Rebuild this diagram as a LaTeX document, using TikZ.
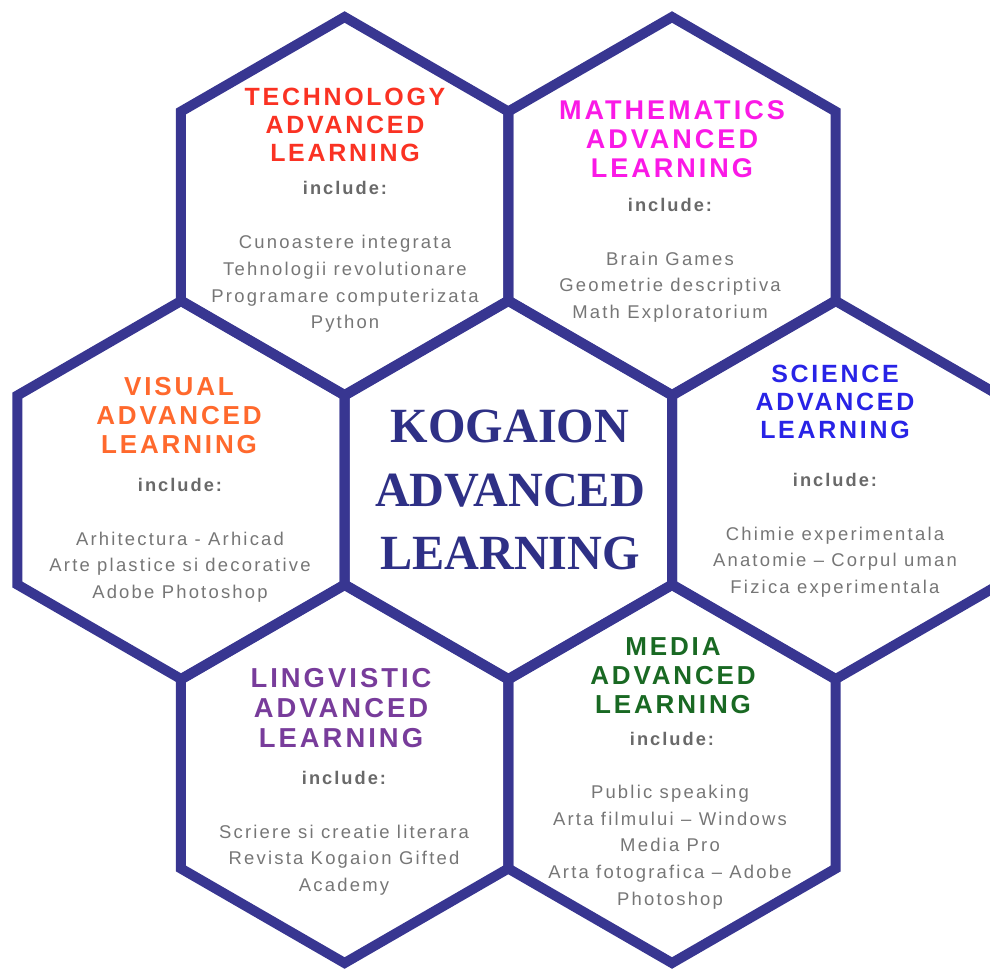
\documentclass[tikz,border=0pt]{standalone}
\usepackage{fontspec}
\setsansfont{Liberation Sans}
\newfontfamily\hexfont[LetterSpace=11]{Liberation Sans}
\newfontfamily\bodyfont[LetterSpace=12]{Liberation Sans}
\newfontfamily\kogfont[FakeStretch=0.98]{Liberation Serif}

\definecolor{hexblue}{RGB}{56,54,145}
\definecolor{kogblue}{RGB}{46,48,134}
\definecolor{techred}{RGB}{250,50,35}
\definecolor{mathpink}{RGB}{250,25,230}
\definecolor{sciblue}{RGB}{40,35,230}
\definecolor{visorange}{RGB}{255,105,45}
\definecolor{lingpurple}{RGB}{120,60,155}
\definecolor{mediagreen}{RGB}{25,105,35}
\definecolor{inclgray}{RGB}{105,105,105}
\definecolor{bodygray}{RGB}{118,118,118}

\begin{document}
\begin{tikzpicture}[x=0.02cm,y=-0.02cm,
    hexline/.style={draw=hexblue,line width=0.2cm,line join=miter},
    title/.style 2 args={font={\hexfont\bfseries\fontsize{#1}{#2}\selectfont},align=center,inner sep=0pt},
    incl/.style={font={\hexfont\bfseries\fontsize{10.4pt}{12pt}\selectfont},text=inclgray,inner sep=0pt},
    body/.style={font={\bodyfont\fontsize{10.5pt}{15.2pt}\selectfont},text=bodygray,align=center,inner sep=0pt}]

    \useasboundingbox (0,0) rectangle (990,968);
    \clip (0,0) rectangle (990,968);

    % draw hexagons
    \foreach \cx/\cy in {344.6/206,672/206,181/490,508.4/490,835.8/490,344.6/774,672/774}
      \draw[hexline] (\cx,\cy) +(90:189) -- +(30:189) -- +(-30:189) -- +(-90:189)
        -- +(-150:189) -- +(150:189) -- cycle;

    % centre
    \node[font={\kogfont\bfseries\fontsize{28pt}{35.9pt}\selectfont},text=kogblue,align=center] (kog) at (510,490)
      {KOGAION\\ADVANCED\\LEARNING};

    % technology
    \node[title={14.2pt}{15.9pt},text=techred] (techtitle) at (345,125) {TECHNOLOGY\\ADVANCED\\LEARNING};
    \node[incl] (techincl) at (345,188) {include:};
    \node[body] (techbody) at (345,284) {Cunoastere integrata\\Tehnologii revolutionare\\Programare computerizata\\Python};

    % mathematics
    \node[title={15.4pt}{16.5pt},text=mathpink] (mathtitle) at (672,139) {MATHEMATICS\\ADVANCED\\LEARNING};
    \node[incl] (mathincl) at (670,205) {include:};
    \node[body] (mathbody) at (670,287) {Brain Games\\Geometrie descriptiva\\Math Exploratorium};

    % visual
    \node[title={14.8pt}{16.5pt},text=visorange] (vistitle) at (179,416) {VISUAL\\ADVANCED\\LEARNING};
    \node[incl] (visincl) at (180,485) {include:};
    \node[body] (visbody) at (180,567) {Arhitectura - Arhicad\\Arte plastice si decorative\\Adobe Photoshop};

    % science
    \node[title={14.2pt}{15.9pt},text=sciblue] (scititle) at (835,402) {SCIENCE\\ADVANCED\\LEARNING};
    \node[incl] (sciincl) at (835,480) {include:};
    \node[body] (scibody) at (835,562) {Chimie experimentala\\Anatomie – Corpul uman\\Fizica experimentala};

    % lingvistic
    \node[title={15.6pt}{17pt},text=lingpurple] (lingtitle) at (341,708) {LINGVISTIC\\ADVANCED\\LEARNING};
    \node[incl] (lingincl) at (344,778) {include:};
    \node[body] (lingbody) at (344,860) {Scriere si creatie literara\\Revista Kogaion Gifted\\Academy};

    % media
    \node[title={14.8pt}{16.5pt},text=mediagreen] (mediatitle) at (673,676) {MEDIA\\ADVANCED\\LEARNING};
    \node[incl] (mediaincl) at (672,739) {include:};
    \node[body] (mediabody) at (670,847) {Public speaking\\Arta filmului – Windows\\Media Pro\\Arta fotografica – Adobe\\Photoshop};

\end{tikzpicture}
\end{document}
